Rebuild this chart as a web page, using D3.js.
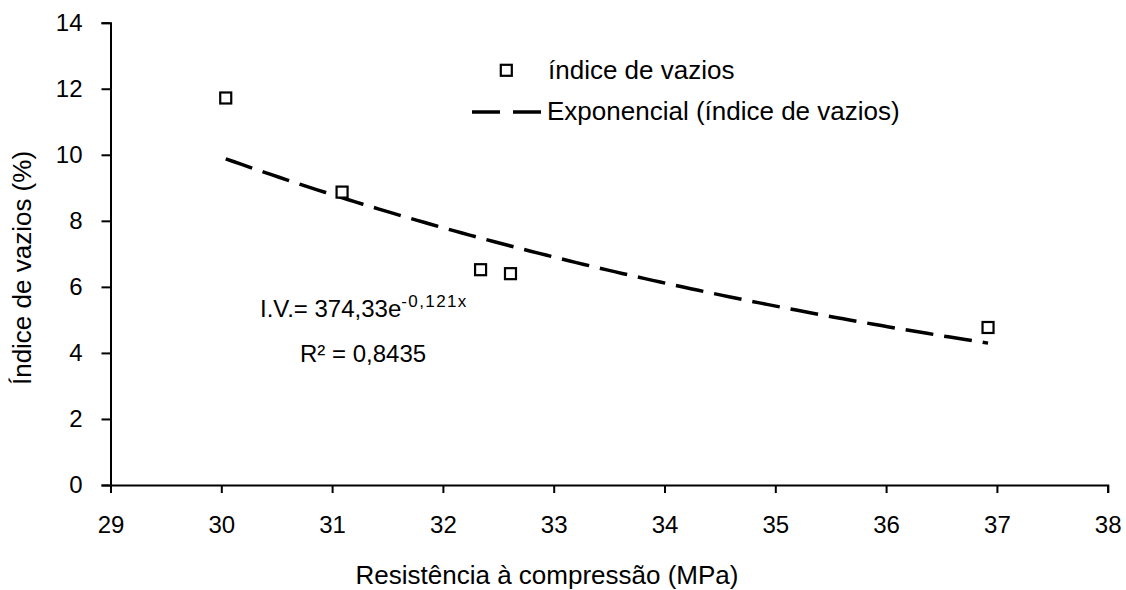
<!DOCTYPE html>
<html>
<head>
<meta charset="utf-8">
<script src="https://cdn.jsdelivr.net/npm/d3@7"></script>
<style>
  html, body { margin: 0; padding: 0; background: #fff; }
  svg { display: block; font-family: "Liberation Sans", Arial, sans-serif; }
</style>
</head>
<body>
<svg id="chart" width="1126" height="590"></svg>
<script>
// Measured samples: compressive strength (MPa) vs. void index (%)
const resistencia = [30.04, 31.09, 32.34, 32.61, 36.92];
const indiceVazios = [11.72, 8.87, 6.52, 6.40, 4.77];

// Exponential trendline coefficients (I.V. = a·e^(b·x))
const trendA = 374.33;
const trendB = -0.121;
const r2Label = "R² = 0,8435";

const xTicks = [29, 30, 31, 32, 33, 34, 35, 36, 37, 38];
const yTicks = [0, 2, 4, 6, 8, 10, 12, 14];

const svg = d3.select("#chart");
const plotLeft = 110.5, plotRight = 1107.7, plotTop = 22.7, plotBottom = 485;

const x = d3.scaleLinear().domain([29, 38]).range([plotLeft, plotRight]);
const y = d3.scaleLinear().domain([0, 14]).range([plotBottom, plotTop]);

const tickFont = 24;
const labelFont = 26;

// Axes
const xAxis = svg.append("g")
  .attr("transform", `translate(0,${plotBottom})`)
  .call(d3.axisBottom(x).tickValues(xTicks).tickSize(8).tickPadding(22).tickFormat(d3.format("d")));
const yAxis = svg.append("g")
  .attr("transform", `translate(${plotLeft},0)`)
  .call(d3.axisLeft(y).tickValues(yTicks).tickSize(9).tickPadding(19).tickFormat(d3.format("d")));

[xAxis, yAxis].forEach(g => {
  g.select(".domain").attr("stroke", "#000").attr("stroke-width", 2);
  g.selectAll(".tick line").attr("stroke", "#000").attr("stroke-width", 2);
  g.selectAll(".tick text").attr("fill", "#000")
    .style("font-size", tickFont + "px")
    .style("font-family", "'Liberation Sans', Arial, sans-serif");
});
xAxis.selectAll(".tick text").attr("dy", "0");
xAxis.selectAll(".tick text").attr("y", 8 + 22 + 17.5);

// Exponential trendline over the range of the data
const xs = d3.extent(resistencia);
const trendX = d3.range(0, 101).map(i => xs[0] + (xs[1] - xs[0]) * i / 100);
const line = d3.line().x(d => x(d)).y(d => y(trendA * Math.exp(trendB * d)));
svg.append("path")
  .datum(trendX)
  .attr("d", line)
  .attr("fill", "none")
  .attr("stroke", "#000")
  .attr("stroke-width", 3.5)
  .attr("stroke-dasharray", "28,11");

// Data markers: hollow squares
const ms = 11;
svg.append("g").selectAll("rect")
  .data(resistencia.map((r, i) => [r, indiceVazios[i]]))
  .join("rect")
  .attr("x", d => x(d[0]) - ms / 2)
  .attr("y", d => y(d[1]) - ms / 2)
  .attr("width", ms)
  .attr("height", ms)
  .attr("fill", "#fff")
  .attr("stroke", "#000")
  .attr("stroke-width", 2.2);

// Legend
const legend = svg.append("g");
legend.append("rect")
  .attr("x", 506.3 - ms / 2).attr("y", 70.3 - ms / 2).attr("width", ms).attr("height", ms)
  .attr("fill", "#fff").attr("stroke", "#000").attr("stroke-width", 2.2);
legend.append("text")
  .attr("x", 548).attr("y", 79)
  .style("font-size", labelFont + "px")
  .text("índice de vazios");
legend.append("line")
  .attr("x1", 472).attr("x2", 541).attr("y1", 112).attr("y2", 112)
  .attr("stroke", "#000").attr("stroke-width", 3.5)
  .attr("stroke-dasharray", "28,13");
legend.append("text")
  .attr("x", 547).attr("y", 120)
  .style("font-size", labelFont + "px")
  .text("Exponencial (índice de vazios)");

// Trendline equation and R²
const eq = svg.append("text").attr("x", 260).attr("y", 317).style("font-size", "24px");
eq.append("tspan").text(`I.V.= ${d3.format(".2f")(trendA).replace(".", ",")}e`);
eq.append("tspan").attr("dy", -10).style("font-size", "17px").style("letter-spacing", "1.4px")
  .text(`${String(trendB).replace(".", ",")}x`);
svg.append("text").attr("x", 300).attr("y", 362).style("font-size", "24px").text(r2Label);

// Axis titles
svg.append("text")
  .attr("x", 547).attr("y", 584)
  .attr("text-anchor", "middle")
  .style("font-size", labelFont + "px")
  .text("Resistência à compressão (MPa)");
svg.append("text")
  .attr("transform", `translate(31,${268}) rotate(-90)`)
  .attr("text-anchor", "middle")
  .style("font-size", labelFont + "px")
  .text("Índice de vazios (%)");
</script>
</body>
</html>
